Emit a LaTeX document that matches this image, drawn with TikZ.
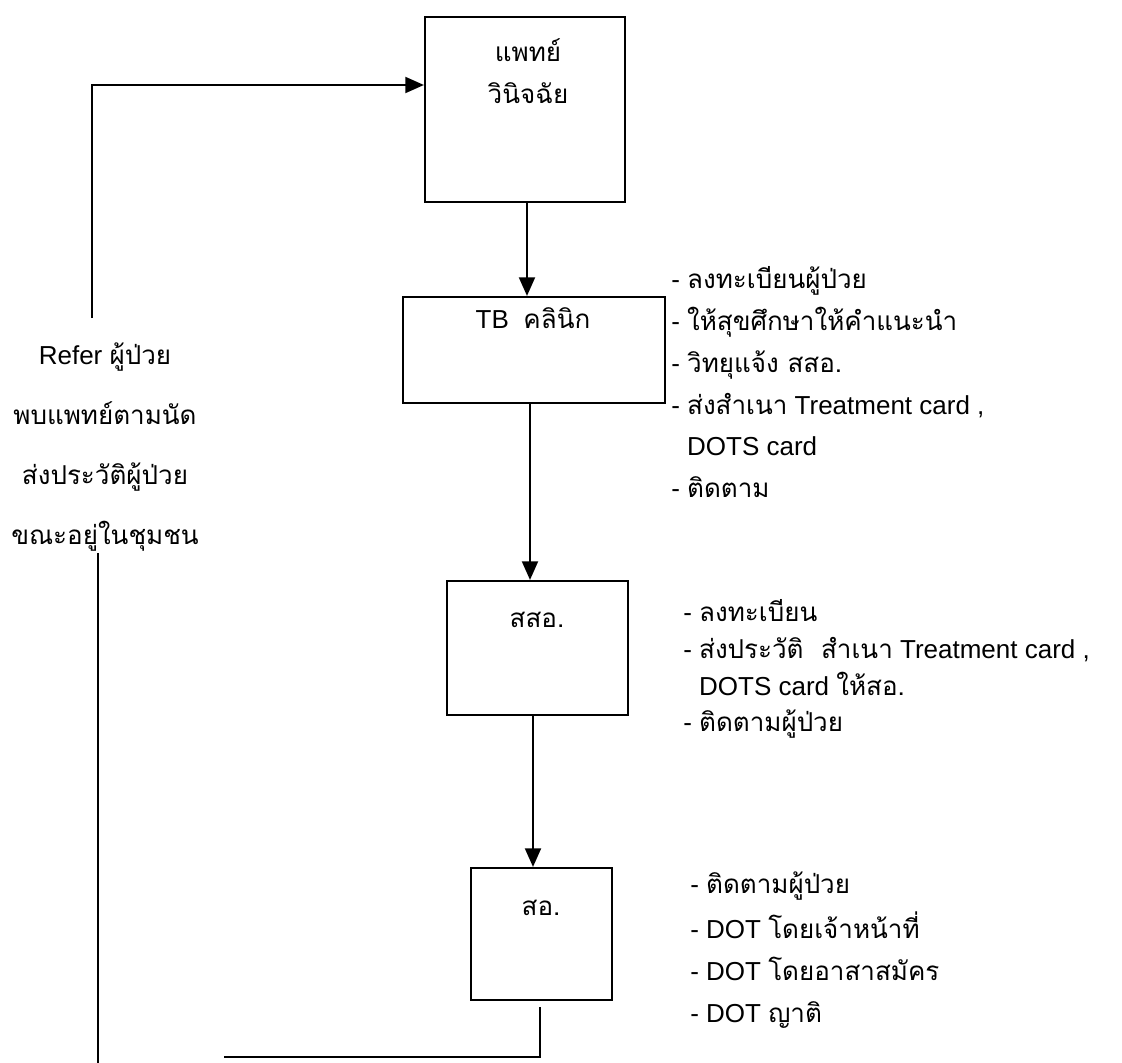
\documentclass[tikz,border=0pt]{standalone}
\usepackage{fontspec}
\setmainfont{Liberation Sans}
\newfontfamily\thai[Script=Thai]{Loma}
\newcommand{\tht}[1]{{\thai #1}}
\usetikzlibrary{arrows.meta,fit}
\tikzset{
  lbl/.style={font=\fontsize{19.5}{24}\selectfont, inner sep=0pt, text height=0.8em, text depth=0.3em},
  item/.style={lbl, anchor=west},
  box/.style={draw, line width=1.6pt, inner sep=0pt},
  link/.style={line width=1.6pt},
  arr/.style={link, -{Triangle[length=14pt,width=12pt]}},
}
\begin{document}
\begin{tikzpicture}[x=0.75pt,y=-0.75pt]
\useasboundingbox (0,0) rectangle (1122,1063);
\fill[white] (0,0) rectangle (1122,1063);

% boxes
\node[box, fit={(425,17) (625,202)}] (b1) {};
\node[lbl] (t1a) at (528,58) {\tht{แพทย์}};
\node[lbl] (t1b) at (528,100) {\tht{วินิจฉัย}};

\node[box, fit={(403,297) (665,403)}] (b2) {};
\node[lbl] (t2) at (533,325) {TB\ \ \tht{คลินิก}};

\node[box, fit={(447,581) (628,715)}] (b3) {};
\node[lbl] (t3) at (537,624) {\tht{สสอ.}};

\node[box, fit={(471,868) (612,1000)}] (b4) {};
\node[lbl] (t4) at (541,912) {\tht{สอ.}};

% list 1
\node[item] (r1a) at (671,285) {- \tht{ลงทะเบียนผู้ป่วย}};
\node[item] (r1b) at (671,327) {- \tht{ให้สุขศึกษาให้คำแนะนำ}};
\node[item] (r1c) at (671,369) {- \tht{วิทยุแจ้ง สสอ.}};
\node[item] (r1d) at (671,411) {- \tht{ส่งสำเนา} Treatment card ,};
\node[item] (r1e) at (671,452) {\hphantom{- }DOTS card};
\node[item] (r1f) at (671,494) {- \tht{ติดตาม}};

% list 2
\node[item] (r2a) at (683,618) {- \tht{ลงทะเบียน}};
\node[item] (r2b) at (683,655) {- \tht{ส่งประวัติ\ \ สำเนา} Treatment card ,};
\node[item] (r2c) at (683,692) {\hphantom{- }DOTS card \tht{ให้สอ.}};
\node[item] (r2d) at (683,728) {- \tht{ติดตามผู้ป่วย}};

% list 3
\node[item] (r3a) at (690,890) {- \tht{ติดตามผู้ป่วย}};
\node[item] (r3b) at (690,935) {- DOT \tht{โดยเจ้าหน้าที่}};
\node[item] (r3c) at (690,977) {- DOT \tht{โดยอาสาสมัคร}};
\node[item] (r3d) at (690,1019) {- DOT \tht{ญาติ}};

% left text
\node[lbl] (l1) at (105,361) {Refer \tht{ผู้ป่วย}};
\node[lbl] (l2) at (105,421) {\tht{พบแพทย์ตามนัด}};
\node[lbl] (l3) at (105,481) {\tht{ส่งประวัติผู้ป่วย}};
\node[lbl] (l4) at (105,541) {\tht{ขณะอยู่ในชุมชน}};

% connectors
\coordinate (lt) at (92,318);
\coordinate (lc) at (92,85);
\draw[arr] (lt) -- (lc) -- (lc -| b1.west);

\coordinate (xa) at (527,0);
\coordinate (xb) at (530,0);
\coordinate (xc) at (533,0);
\draw[arr] (b1.south -| xa) -- (b2.north -| xa);
\draw[arr] (b2.south -| xb) -- (b3.north -| xb);
\draw[arr] (b3.south -| xc) -- (b4.north -| xc);

\coordinate (s4) at (540,1007);
\coordinate (bl) at (224,1057);
\draw[link] (s4) -- (s4 |- bl) -- (bl);

\coordinate (ll1) at (98,553);
\coordinate (ll2) at (98,1063);
\draw[link] (ll1) -- (ll2);
\end{tikzpicture}
\end{document}
